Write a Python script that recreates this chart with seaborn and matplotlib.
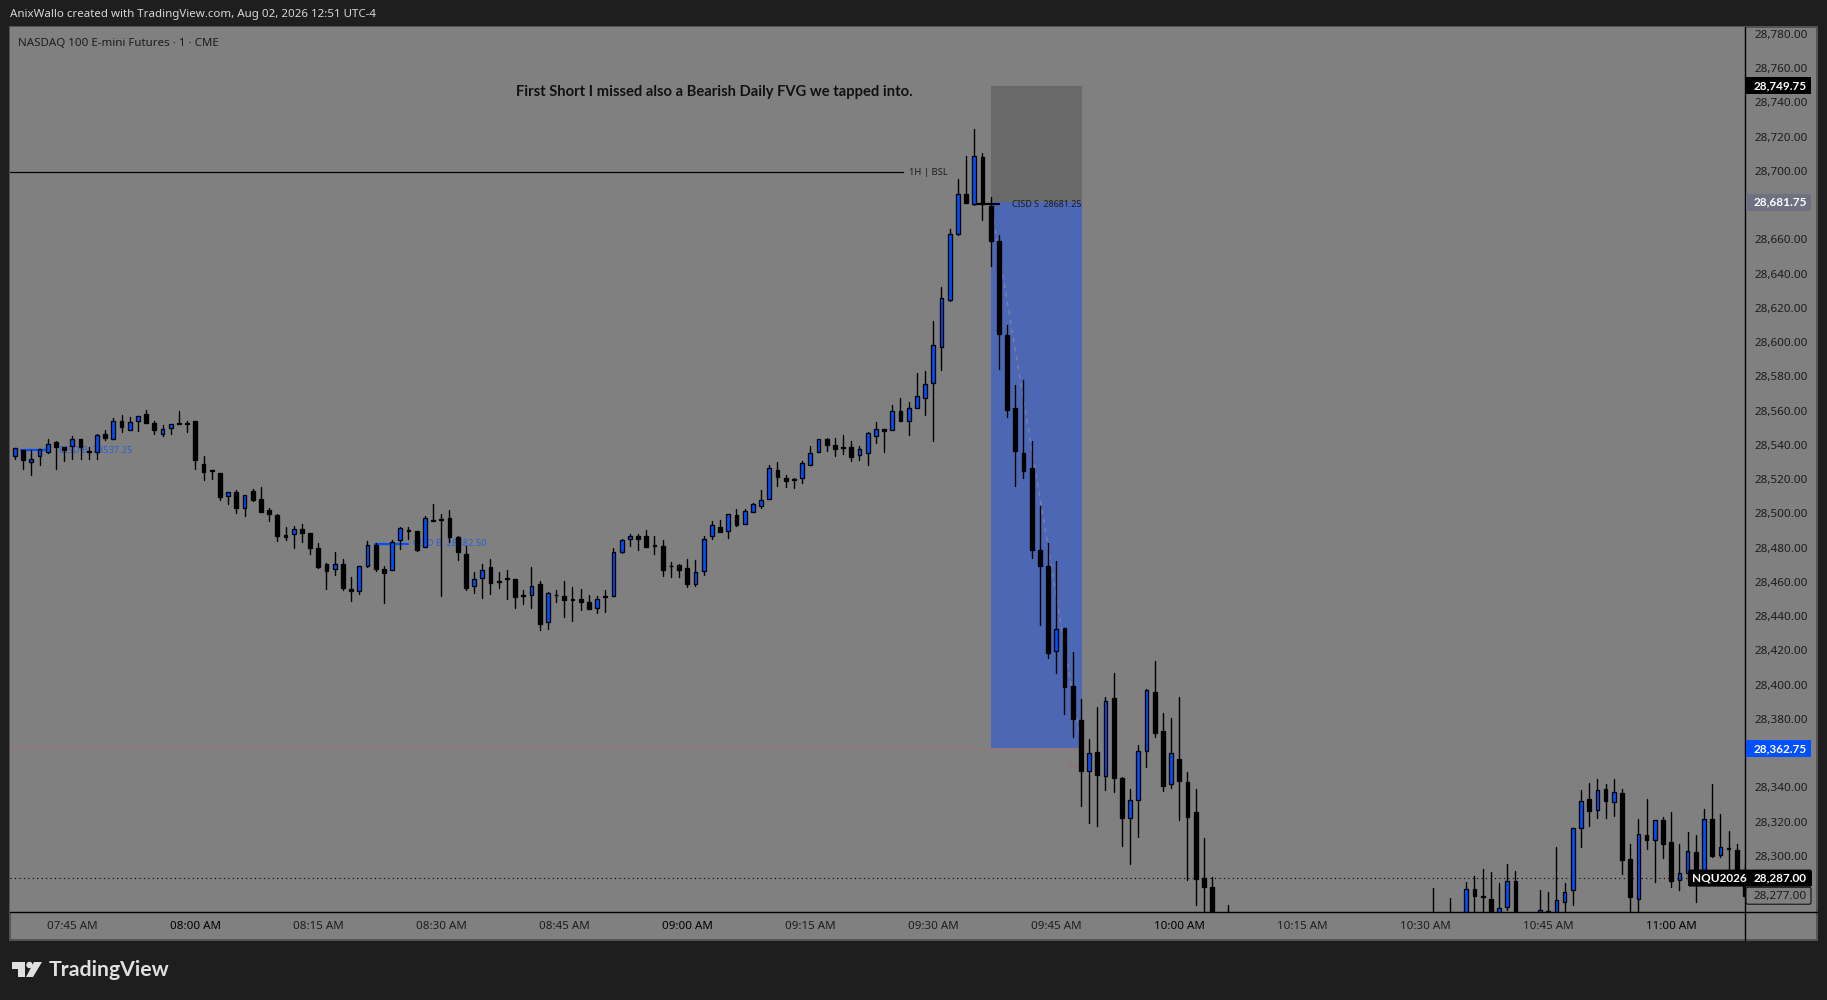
import matplotlib
matplotlib.use("Agg")

import matplotlib.pyplot as plt
import pandas as pd
import seaborn as sns
from matplotlib.patches import FancyBboxPatch, Polygon, Rectangle
from matplotlib.transforms import IdentityTransform

# minutes relative to 08:00, bars that sit fully under the axis are left out
bar_minutes = list(range(-22, 125)) + [126, 151, 153] + list(range(155, 162)) + list(range(164, 190))

opens = [
    28533.6, 28536.7, 28529.7, 28533.2, 28536.0, 28541.4, 28538.5, 28539.1, 28543.2, 28536.5,
    28536.1, 28546.1, 28543.7, 28553.7, 28548.4, 28553.7, 28558.3, 28552.5, 28546.1, 28549.6,
    28552.5, 28552.5, 28554.2, 28529.1, 28525.4, 28523.3, 28509.9, 28512.4, 28502.9, 28512.8,
    28508.1, 28501.7, 28499.0, 28487.1, 28488.1, 28490.6, 28488.3, 28479.5, 28470.4, 28467.6,
    28470.2, 28455.6, 28454.8, 28469.0, 28481.8, 28467.3, 28467.0, 28484.2, 28490.2, 28489.4,
    28480.1, 28496.4, 28496.8, 28497.0, 28486.1, 28476.0, 28457.3, 28462.0, 28468.4, 28460.2,
    28462.2, 28461.4, 28452.4, 28452.6, 28458.5, 28436.3, 28452.6, 28452.0, 28449.7, 28449.7,
    28448.5, 28444.5, 28451.7, 28451.5, 28477.7, 28485.3, 28486.7, 28486.7, 28480.7, 28481.2,
    28469.4, 28469.6, 28467.8, 28458.9, 28466.4, 28486.5, 28491.8, 28489.4, 28498.8, 28493.5,
    28500.5, 28504.0, 28508.1, 28525.6, 28520.9, 28519.8, 28520.5, 28528.4, 28536.0, 28543.2,
    28539.7, 28538.7, 28538.5, 28534.2, 28535.4, 28545.3, 28549.0, 28548.8, 28559.5, 28554.0,
    28561.8, 28567.1, 28575.9, 28597.4, 28624.7, 28663.4, 28686.2, 28680.4, 28707.8, 28679.2,
    28658.8, 28603.9, 28561.8, 28535.0, 28526.2, 28478.4, 28469.0, 28419.4, 28432.8, 28399.0,
    28379.1, 28349.8, 28360.4, 28346.4, 28391.9, 28345.2, 28322.3, 28332.4, 28361.0, 28395.4,
    28372.7, 28341.7, 28356.3, 28342.9, 28325.4, 28286.9, 28281.6,
    28262.0, 28262.0, 28262.0,
    28262.0, 28280.4, 28276.5, 28274.6, 28262.0, 28269.9, 28285.1,
    28262.0, 28267.6, 28264.0, 28272.8, 28279.8, 28316.0, 28333.0, 28326.5, 28338.8, 28331.2,
    28336.5, 28297.9, 28274.6, 28311.9, 28309.0, 28320.7, 28307.9, 28285.7, 28290.1, 28302.0,
    28290.7, 28321.3, 28300.3, 28304.4, 28303.2, 28289.0,
]
highs = [
    28537.9, 28536.7, 28536.7, 28537.3, 28543.2, 28542.0, 28538.5, 28544.9, 28543.2, 28538.5,
    28546.1, 28548.4, 28555.4, 28557.2, 28556.0, 28556.6, 28560.1, 28554.2, 28551.3, 28551.9,
    28559.7, 28554.2, 28554.2, 28533.2, 28525.6, 28523.3, 28512.2, 28513.4, 28511.0, 28514.0,
    28515.1, 28502.9, 28499.9, 28491.8, 28492.4, 28493.5, 28488.3, 28482.4, 28471.0, 28477.2,
    28473.1, 28462.6, 28469.0, 28483.6, 28482.4, 28469.0, 28484.2, 28492.0, 28492.3, 28489.4,
    28498.2, 28505.2, 28499.9, 28501.7, 28486.7, 28481.2, 28465.5, 28470.3, 28473.6, 28465.5,
    28467.2, 28461.4, 28455.0, 28468.4, 28460.2, 28453.8, 28455.0, 28460.2, 28456.7, 28456.1,
    28452.6, 28452.0, 28455.0, 28479.5, 28485.3, 28488.2, 28487.7, 28490.0, 28486.7, 28484.7,
    28471.3, 28470.7, 28473.6, 28472.5, 28486.5, 28495.8, 28496.4, 28499.9, 28502.8, 28502.3,
    28506.3, 28513.4, 28528.0, 28529.7, 28522.1, 28520.9, 28530.5, 28539.3, 28543.2, 28544.0,
    28544.0, 28545.5, 28542.2, 28539.3, 28547.3, 28553.1, 28549.0, 28563.2, 28567.1, 28564.8,
    28581.7, 28583.4, 28612.3, 28631.9, 28665.8, 28695.0, 28708.4, 28724.7, 28710.7, 28685.0,
    28662.3, 28609.7, 28574.7, 28577.6, 28542.0, 28504.0, 28482.4, 28471.9, 28432.8, 28418.8,
    28391.4, 28368.0, 28386.7, 28392.5, 28406.5, 28345.8, 28339.0, 28364.5, 28397.2, 28413.5,
    28383.2, 28380.3, 28392.5, 28348.7, 28338.8, 28310.2, 28287.4,
    28271.1, 28281.0, 28275.4,
    28284.5, 28288.0, 28292.1, 28290.3, 28283.9, 28295.0, 28290.9,
    28279.8, 28278.7, 28304.9, 28283.9, 28316.0, 28338.2, 28342.3, 28344.6, 28341.7, 28344.6,
    28338.8, 28306.7, 28321.3, 28332.9, 28320.7, 28322.4, 28325.4, 28306.7, 28313.7, 28311.9,
    28327.1, 28341.7, 28324.2, 28314.3, 28306.7, 28295.0,
]
lows = [
    28531.9, 28526.0, 28522.5, 28528.4, 28535.4, 28526.0, 28530.7, 28531.9, 28531.9, 28531.9,
    28531.9, 28542.6, 28543.7, 28547.6, 28548.4, 28548.2, 28552.5, 28546.5, 28545.3, 28546.5,
    28551.9, 28547.6, 28526.0, 28519.6, 28520.2, 28507.9, 28505.6, 28500.3, 28498.6, 28507.3,
    28500.9, 28495.7, 28484.0, 28484.6, 28479.9, 28483.4, 28476.4, 28468.0, 28455.8, 28464.1,
    28455.4, 28449.0, 28453.0, 28468.8, 28466.5, 28447.8, 28467.0, 28478.9, 28485.1, 28478.1,
    28480.1, 28495.6, 28451.9, 28483.4, 28472.9, 28455.3, 28453.6, 28450.7, 28453.0, 28456.5,
    28450.1, 28444.8, 28447.2, 28444.8, 28432.0, 28432.6, 28448.3, 28439.6, 28437.3, 28443.7,
    28444.3, 28441.9, 28442.5, 28451.5, 28476.6, 28481.0, 28478.7, 28480.5, 28476.4, 28463.5,
    28462.9, 28462.9, 28457.1, 28457.7, 28464.1, 28485.3, 28489.2, 28485.7, 28492.7, 28493.5,
    28500.5, 28503.2, 28508.1, 28516.1, 28515.5, 28514.9, 28518.0, 28528.4, 28536.0, 28536.5,
    28533.6, 28534.8, 28530.5, 28531.3, 28528.4, 28541.2, 28536.0, 28548.8, 28554.0, 28545.9,
    28561.8, 28557.6, 28542.4, 28583.6, 28624.1, 28662.3, 28681.0, 28679.8, 28671.4, 28644.7,
    28584.0, 28556.0, 28516.1, 28520.8, 28474.1, 28434.9, 28415.7, 28406.9, 28383.0, 28369.6,
    28329.3, 28319.3, 28317.6, 28338.6, 28337.4, 28305.9, 28295.4, 28311.2, 28352.0, 28369.6,
    28338.0, 28339.8, 28321.1, 28286.1, 28271.5, 28262.0, 28255.0,
    28250.0, 28250.0, 28250.0,
    28258.0, 28262.0, 28262.0, 28258.0, 28258.0, 28268.2, 28255.0,
    28258.0, 28262.0, 28260.0, 28262.0, 28271.4, 28305.3, 28317.6, 28322.3, 28322.3, 28323.4,
    28289.6, 28262.0, 28262.0, 28304.2, 28284.9, 28298.9, 28282.0, 28280.2, 28285.9, 28273.2,
    28288.8, 28299.5, 28299.5, 28288.8, 28288.8, 28276.0,
]
closes = [
    28537.9, 28531.3, 28531.9, 28537.3, 28540.2, 28538.9, 28537.1, 28543.2, 28538.5, 28536.1,
    28545.5, 28544.1, 28554.2, 28550.6, 28553.1, 28556.6, 28552.5, 28548.8, 28549.0, 28551.9,
    28552.1, 28551.9, 28531.3, 28524.3, 28525.0, 28509.7, 28512.2, 28503.3, 28511.0, 28507.7,
    28500.9, 28499.8, 28486.9, 28486.3, 28490.6, 28488.7, 28479.9, 28468.8, 28466.5, 28470.2,
    28456.6, 28454.8, 28469.0, 28481.3, 28467.5, 28465.3, 28483.0, 28491.2, 28489.8, 28478.7,
    28497.0, 28495.6, 28496.4, 28486.3, 28477.5, 28456.5, 28461.4, 28467.2, 28459.4, 28459.8,
    28461.8, 28451.3, 28452.0, 28457.3, 28435.5, 28453.2, 28452.2, 28449.5, 28449.3, 28448.3,
    28444.3, 28450.1, 28451.3, 28477.7, 28484.7, 28486.5, 28485.1, 28480.5, 28481.8, 28467.0,
    28469.0, 28466.8, 28458.9, 28465.5, 28485.3, 28492.9, 28489.2, 28499.4, 28493.3, 28501.1,
    28505.2, 28507.5, 28526.2, 28521.3, 28519.0, 28519.4, 28529.2, 28535.0, 28543.2, 28540.0,
    28537.7, 28538.3, 28533.0, 28537.3, 28546.7, 28549.0, 28548.2, 28559.5, 28554.0, 28561.8,
    28568.3, 28575.3, 28598.1, 28625.5, 28662.9, 28686.2, 28681.3, 28708.4, 28680.4, 28658.8,
    28604.5, 28560.1, 28536.5, 28524.9, 28478.4, 28469.4, 28418.2, 28432.2, 28398.8, 28380.1,
    28349.8, 28359.8, 28347.4, 28390.2, 28345.6, 28322.3, 28332.4, 28361.0, 28396.6, 28371.9,
    28341.0, 28359.8, 28343.9, 28322.9, 28286.3, 28282.0, 28262.0,
    28258.0, 28258.0, 28258.0,
    28280.4, 28276.3, 28276.1, 28262.0, 28269.3, 28285.1, 28260.0,
    28268.2, 28266.0, 28274.0, 28278.7, 28316.0, 28331.8, 28326.3, 28338.2, 28331.8, 28337.0,
    28297.3, 28275.7, 28312.5, 28309.4, 28320.7, 28306.7, 28285.1, 28289.8, 28302.6, 28288.8,
    28321.3, 28299.9, 28304.9, 28303.8, 28289.8, 28276.5,
]

time_ticks = [-15, 0, 15, 30, 45, 60, 75, 90, 105, 120, 135, 150, 165, 180]
time_labels = [
    "07:45 AM", "08:00 AM", "08:15 AM", "08:30 AM", "08:45 AM", "09:00 AM", "09:15 AM",
    "09:30 AM", "09:45 AM", "10:00 AM", "10:15 AM", "10:30 AM", "10:45 AM", "11:00 AM",
]
# 28,680 and 28,360 sit under the coloured price tags in the original
price_ticks = [p for p in range(28300, 28781, 20) if p not in (28680, 28360)]

stop_price = 28749.75
entry_price = 28681.75
target_price = 28362.75
last_price = 28287.00
timer_price = 28277.00
bsl_price = 28699.1
cisd_short_price = 28680.6
cisd_long_a_price = 28536.9
cisd_long_b_price = 28482.2

BG = "#1e1e1e"
PANE = "#808080"
UP = "#0050ff"
DOWN = "#000000"
INK = "#1c1c1c"
BOLD_FONT = "Lato"

sns.set_theme(style="white", rc={"axes.facecolor": PANE, "figure.facecolor": BG})
plt.rcParams["font.family"] = ["Noto Sans", "DejaVu Sans"]

df = pd.DataFrame({"minute": bar_minutes, "open": opens, "high": highs, "low": lows, "close": closes})
df["up"] = df["close"] > df["open"]

fig = plt.figure(figsize=(18.27, 10), dpi=100)


def px(x, y):
    # screen position with y measured from the top
    return x, 1000 - y


def px_rect(x0, y0, x1, y1, **kwargs):
    left, bottom = px(x0, y1)
    patch = Rectangle((left, bottom), x1 - x0, y1 - y0, transform=IdentityTransform(), **kwargs)
    fig.add_artist(patch)
    return patch


def px_text(x, y, text, **kwargs):
    left, bottom = px(x, y)
    kwargs.setdefault("va", "center")
    return fig.text(left, bottom, text, transform=IdentityTransform(), **kwargs)


def px_line(x0, y0, x1, y1, **kwargs):
    line = plt.Line2D([x0, x1], [1000 - y0, 1000 - y1], transform=IdentityTransform(), **kwargs)
    fig.add_artist(line)


px_rect(10, 27, 1817, 940, facecolor=PANE, edgecolor="#555555", linewidth=1.4, zorder=-5)

ax = fig.add_axes([10 / 1827, 88 / 1000, 1735 / 1827, 885 / 1000])
ax.set_xlim(-22.6, 189.0)
ax.set_ylim(28267.2, 28784.0)

# position tool boxes and level lines
ax.axhspan(entry_price, stop_price, xmin=(97.0 + 22.6) / 211.6, xmax=(108.1 + 22.6) / 211.6,
           color="#696969", lw=0, zorder=1)
ax.axhspan(target_price, entry_price, xmin=(97.0 + 22.6) / 211.6, xmax=(108.1 + 22.6) / 211.6,
           color="#4c67b3", lw=0, zorder=1)
ax.plot([97.0, 108.1], [entry_price, target_price], color="#7680a8", lw=1.1, ls=(0, (3, 3)), zorder=1.2)
ax.plot([-22.6, 108.6], [target_price, target_price], color="#a07478", lw=0.8, zorder=1.2)
ax.axhline(last_price, color="#000000", lw=0.8, ls=(0, (1, 3)), zorder=1.3)
ax.plot([-22.6, 86.3], [bsl_price, bsl_price], color="#000000", lw=0.9, zorder=2)
ax.plot([95.3, 98.0], [cisd_short_price, cisd_short_price], color="#000000", lw=1.6, zorder=4)
ax.plot([-21.2, -18.0], [cisd_long_a_price, cisd_long_a_price], color=UP, lw=1.6, zorder=2)
ax.plot([21.9, 26.0], [cisd_long_b_price, cisd_long_b_price], color=UP, lw=1.6, zorder=2)

ax.text(-16.6, cisd_long_a_price, "CISD B  28537.25", color="#2a5fd6", fontsize=6.6, va="center", zorder=1.5)
ax.text(26.5, cisd_long_b_price, "CISD B  28482.50", color="#2a5fd6", fontsize=6.6, va="center", zorder=1.5)
ax.text(87.0, bsl_price, "1H | BSL", color=INK, fontsize=6.8, va="center", zorder=2)
ax.text(99.6, cisd_short_price, "CISD S  28681.25", color=INK, fontsize=6.4, va="center", zorder=5)
ax.text(108.3, 28353.0, "Ask", color="#907274", fontsize=6.8, va="center", ha="right", zorder=1.5)
px_text(714, 92, "First Short I missed also a Bearish Daily FVG we tapped into.", color="#111111",
        fontsize=10.6, fontweight="bold", family=BOLD_FONT, ha="center")

# wicks
wicks = df.melt(id_vars=["minute"], value_vars=["low", "high"], value_name="price")
sns.lineplot(data=wicks, x="minute", y="price", units="minute", estimator=None, sort=False,
             color="#000000", lw=1.0, legend=False, ax=ax, zorder=3)

# bodies
for is_up, face in [(True, UP), (False, DOWN)]:
    part = df[df["up"] == is_up]
    ax.bar(part["minute"], (part["close"] - part["open"]).abs(), bottom=part[["open", "close"]].min(axis=1),
           width=0.46, color=face, edgecolor="#000000", linewidth=0.95, zorder=3.5)

ax.set_xlabel("")
ax.set_ylabel("")
ax.set_xticks(time_ticks)
ax.set_xticklabels(time_labels, fontsize=8.3, color=INK)
ax.set_yticks(price_ticks)
ax.set_yticklabels([f"{p:,.2f}" for p in price_ticks], fontsize=8.4, color=INK)
ax.yaxis.tick_right()
ax.tick_params(axis="both", length=0)
ax.tick_params(axis="x", pad=6.5)
ax.tick_params(axis="y", pad=7)
for label in ax.get_xticklabels():
    if label.get_text().endswith(":00 AM"):
        label.set_color("#000000")
        label.set_fontweight("medium")
for spine in ax.spines.values():
    spine.set_visible(False)

# price scale frame lines
px_line(1745, 27, 1745, 940, color="#000000", lw=1.0, zorder=6)
px_line(10, 912, 1817, 912, color="#000000", lw=1.0, zorder=6)


def y_pixel(price):
    bottom = ax.transData.transform((0, price))[1]
    return 1000 - bottom


# price labels on the scale
for price, face, text_color in [(stop_price, "#000000", "white"), (entry_price, "#6f7180", "white"),
                                (target_price, "#0050ff", "white")]:
    py = y_pixel(price)
    px_rect(1746, py - 8.5, 1811, py + 8.5, facecolor=face, edgecolor="none", zorder=7)
    px_text(1754, py, f"{price:,.2f}", color=text_color, fontsize=8.5, fontweight="bold", family=BOLD_FONT, zorder=8)

py = y_pixel(timer_price) + 1
timer = FancyBboxPatch(px(1746, py + 8), 65, 17, boxstyle="round,pad=0,rounding_size=2",
                       transform=IdentityTransform(), facecolor=PANE, edgecolor="#111111", linewidth=0.8, zorder=7)
fig.add_artist(timer)
px_text(1754, py, f"{timer_price:,.2f}", color=INK, fontsize=8.4, zorder=8)

py = y_pixel(last_price)
tag = FancyBboxPatch(px(1688, py + 8.5), 124, 17, boxstyle="round,pad=0,rounding_size=2",
                     transform=IdentityTransform(), facecolor="#000000", edgecolor="none", zorder=7)
fig.add_artist(tag)
px_text(1692, py, "NQU2026", color="white", fontsize=8.5, fontweight="bold", family=BOLD_FONT, zorder=8)
px_text(1754, py, f"{last_price:,.2f}", color="white", fontsize=8.5, fontweight="bold", family=BOLD_FONT, zorder=8)

# header and footer
px_text(10, 15, "AnixWallo created with TradingView.com, Aug 02, 2026 12:51 UTC-4", color="#d6d6d6", fontsize=8.3)
px_text(18, 43, "NASDAQ 100 E-mini Futures · 1 · CME", color=INK, fontsize=8.3)

LOGO = "#e0e0e0"
for points in [
    [(12, 962), (24.5, 962), (24.5, 977), (17.5, 977), (17.5, 969), (12, 969)],
    [(34, 962), (42, 962), (33, 977), (26, 977)],
]:
    fig.add_artist(Polygon([px(x, y) for x, y in points], transform=IdentityTransform(), facecolor=LOGO, edgecolor="none"))
fig.add_artist(plt.Circle(px(29.5, 965), 3.2, transform=IdentityTransform(), facecolor=LOGO, edgecolor="none"))
px_text(49, 970, "TradingView", color=LOGO, fontsize=15.3, fontweight="bold", family="Lato")

fig.savefig("out.png", dpi=100, facecolor=BG)
